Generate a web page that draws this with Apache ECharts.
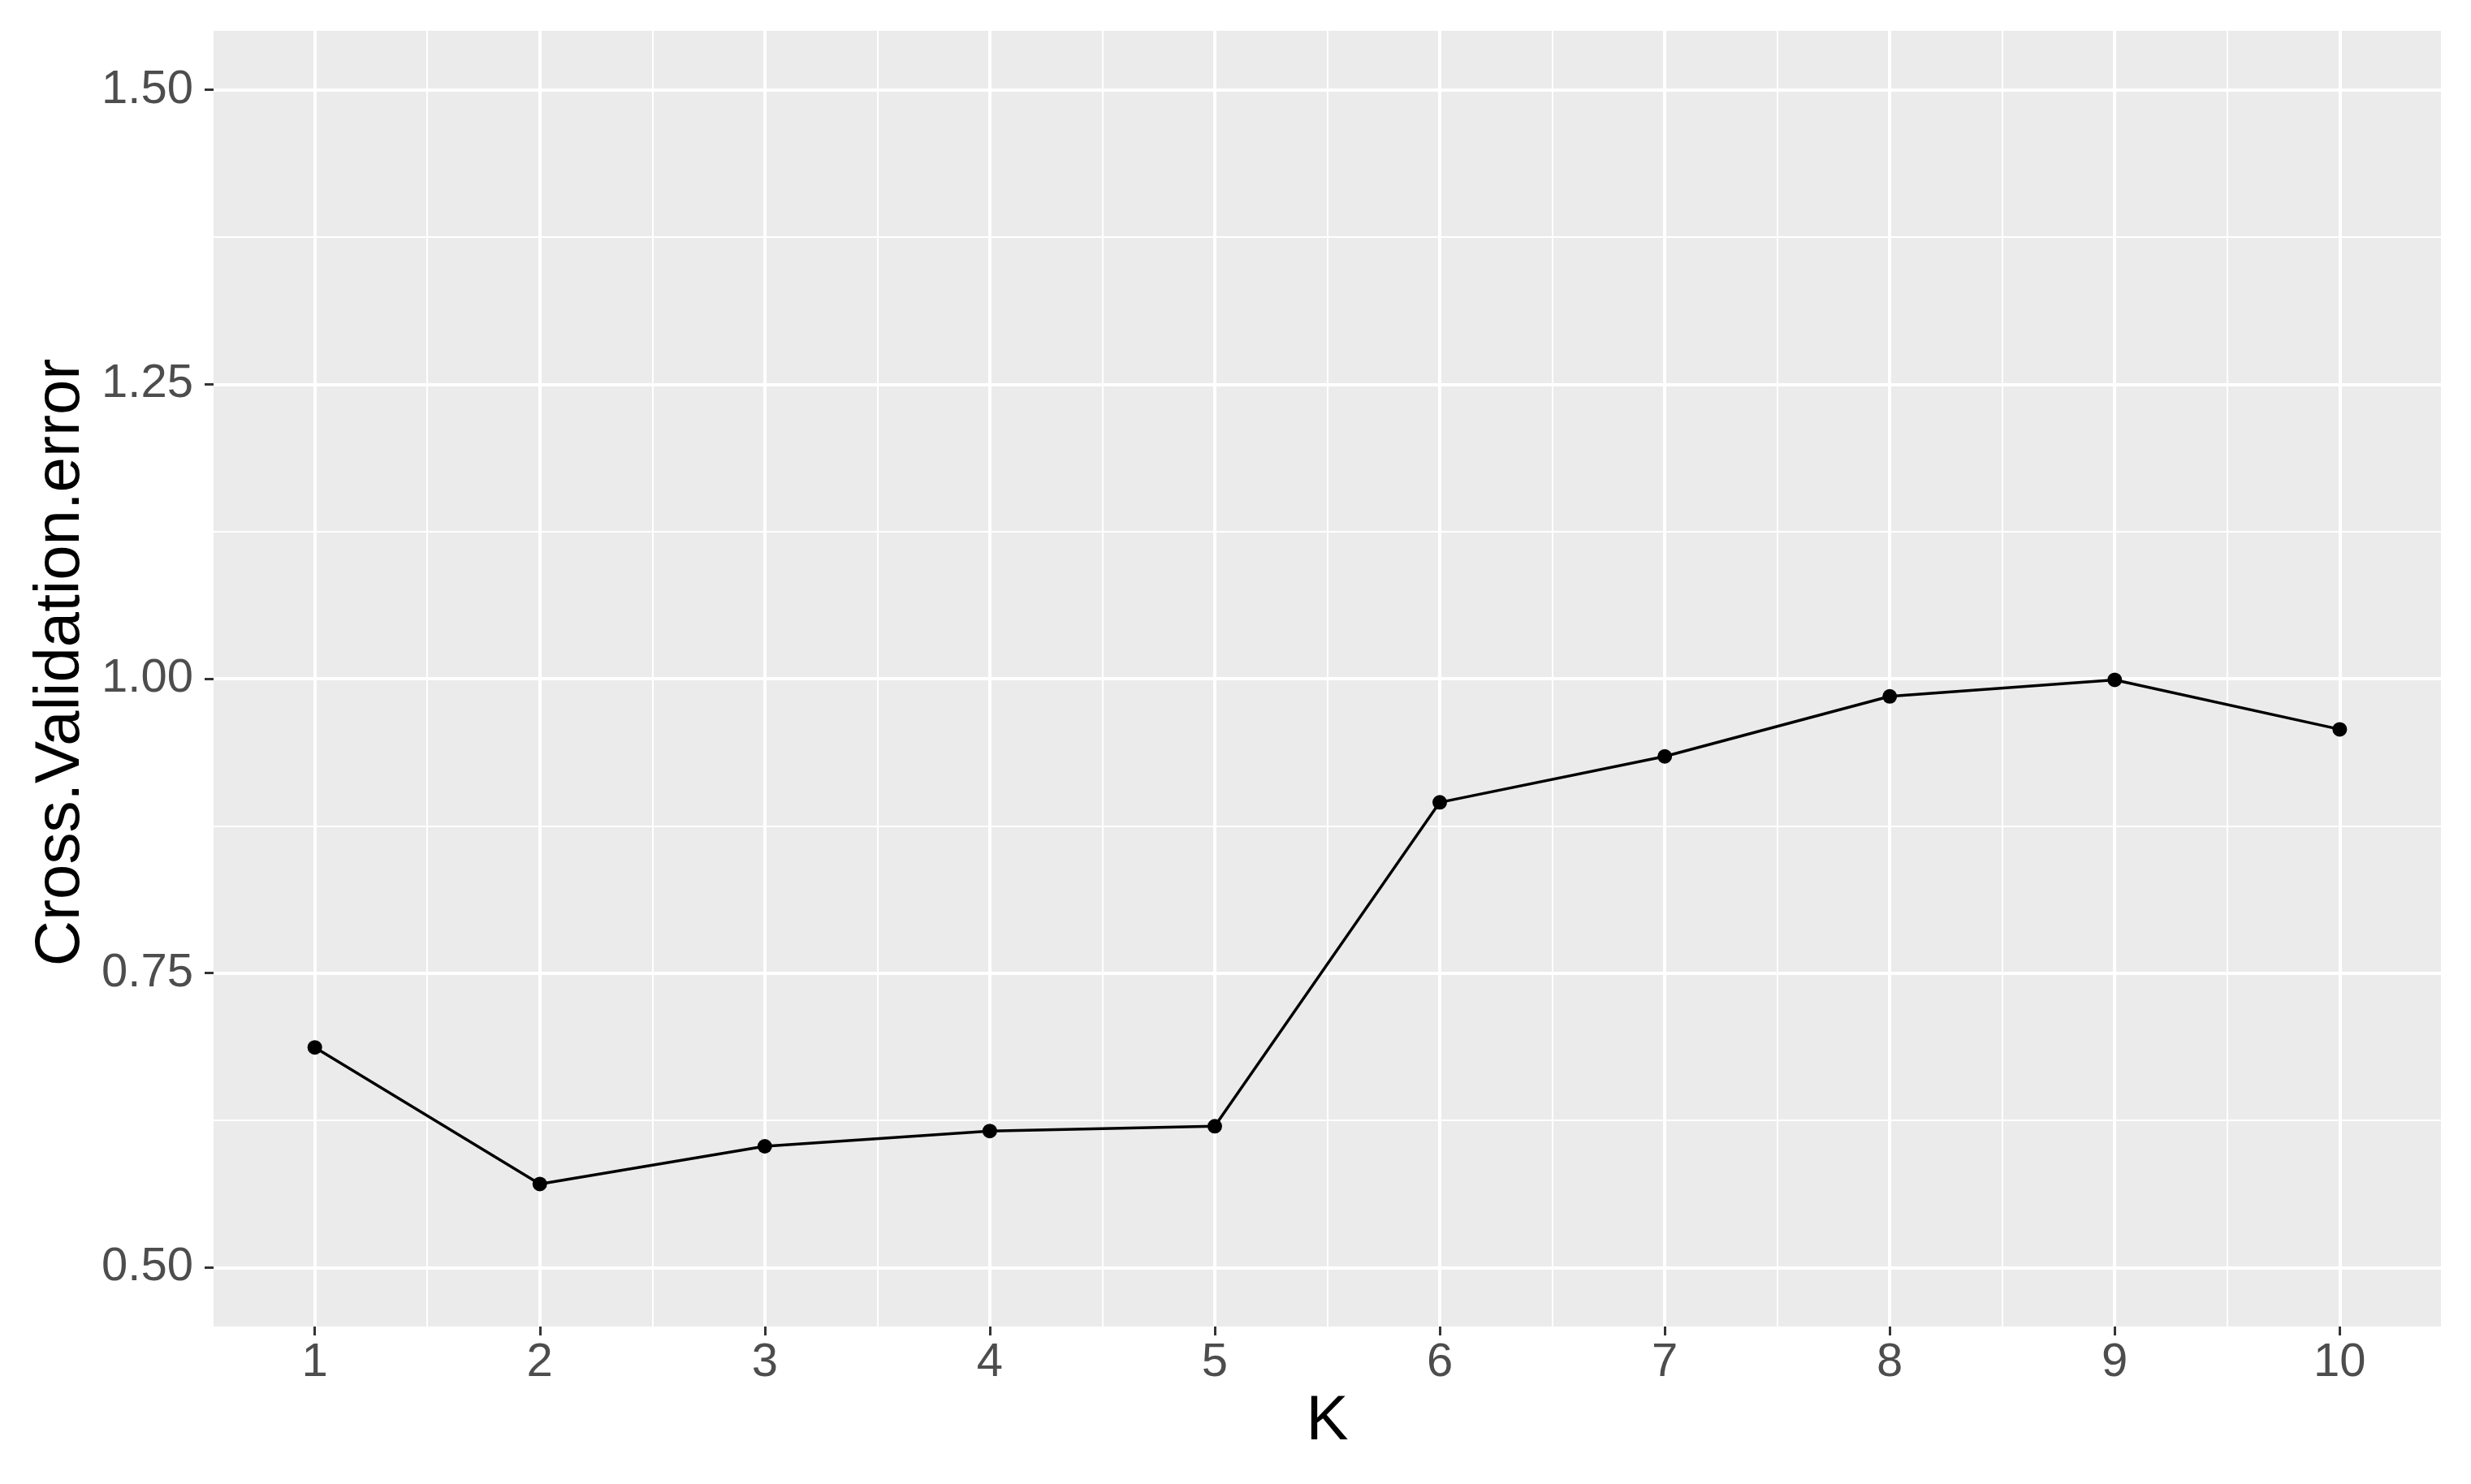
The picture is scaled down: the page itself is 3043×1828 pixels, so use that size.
<!DOCTYPE html>
<html>
<head>
<meta charset="utf-8">
<title>Cross validation error by K</title>
<script src="https://cdn.jsdelivr.net/npm/echarts@6/dist/echarts.min.js"></script>
<style>
  html, body {
    margin: 0;
    padding: 0;
    background: #ffffff;
  }
  #chart {
    width: 3043px;
    height: 1828px;
  }
</style>
</head>
<body>
<div id="chart"></div>
<script>
// values
var kValues = [1, 2, 3, 4, 5, 6, 7, 8, 9, 10]
var cvError = [0.687, 0.571, 0.603, 0.616, 0.620, 0.895, 0.934, 0.985, 0.999, 0.957]

// axis breaks (ggplot style major / minor grid)
var xTicks = [1, 2, 3, 4, 5, 6, 7, 8, 9, 10]
var xMinorTicks = [1.5, 2.5, 3.5, 4.5, 5.5, 6.5, 7.5, 8.5, 9.5]
var yTicks = [0.5, 0.75, 1.0, 1.25, 1.5]
var yMinorTicks = [0.625, 0.875, 1.125, 1.375]

var fontFamily = 'Liberation Sans, Arial, sans-serif'
var tickFont = 58
var titleFont = 78

var chart = echarts.init(document.getElementById('chart'))

function minorAxis(min, max, ticks, pos) {
  return {
    type: 'value',
    position: pos,
    min: min,
    max: max,
    z: 0,
    axisLine: { show: false },
    axisTick: { show: false, customValues: ticks },
    axisLabel: { show: false, customValues: ticks },
    splitLine: { show: true, lineStyle: { color: '#ffffff', width: 2 } }
  }
}

var option = {
  backgroundColor: '#ffffff',
  animation: false,
  grid: {
    left: 263,
    right: 37,
    top: 38,
    bottom: 194,
    outerBoundsMode: 'none',
    show: true,
    backgroundColor: '#EBEBEB',
    borderWidth: 0
  },
  xAxis: [
    minorAxis(0.55, 10.45, xMinorTicks, 'bottom'),
    {
      type: 'value',
      position: 'bottom',
      min: 0.55,
      max: 10.45,
      z: 1,
      name: 'K',
      nameLocation: 'middle',
      nameGap: 76,
      nameTextStyle: { fontSize: titleFont, color: '#000000', fontFamily: fontFamily },
      axisLine: { show: false },
      axisTick: {
        show: true,
        customValues: xTicks,
        length: 11,
        lineStyle: { color: '#333333', width: 3 }
      },
      axisLabel: {
        customValues: xTicks,
        margin: 16,
        fontSize: tickFont,
        color: '#4D4D4D',
        fontFamily: fontFamily
      },
      splitLine: { show: true, lineStyle: { color: '#ffffff', width: 4 } }
    }
  ],
  yAxis: [
    minorAxis(0.45, 1.55, yMinorTicks, 'left'),
    {
      type: 'value',
      position: 'left',
      min: 0.45,
      max: 1.55,
      z: 1,
      name: 'Cross.Validation.error',
      nameLocation: 'middle',
      nameRotate: 90,
      nameGap: 148,
      nameTextStyle: {
        fontSize: titleFont,
        color: '#000000',
        fontFamily: fontFamily,
        padding: [0, 0, 0, 40]
      },
      axisLine: { show: false },
      axisTick: {
        show: true,
        customValues: yTicks,
        length: 11,
        lineStyle: { color: '#333333', width: 3 }
      },
      axisLabel: {
        customValues: yTicks,
        margin: 25,
        fontSize: tickFont,
        color: '#4D4D4D',
        fontFamily: fontFamily,
        formatter: function (v) { return v.toFixed(2) }
      },
      splitLine: { show: true, lineStyle: { color: '#ffffff', width: 4 } }
    }
  ],
  series: [
    {
      type: 'line',
      xAxisIndex: 1,
      yAxisIndex: 1,
      data: kValues.map(function (k, i) { return [k, cvError[i]] }),
      symbol: 'circle',
      symbolSize: 18,
      lineStyle: { color: '#000000', width: 3.5 },
      itemStyle: { color: '#000000' },
      z: 3
    }
  ]
}

chart.setOption(option)
</script>
</body>
</html>
